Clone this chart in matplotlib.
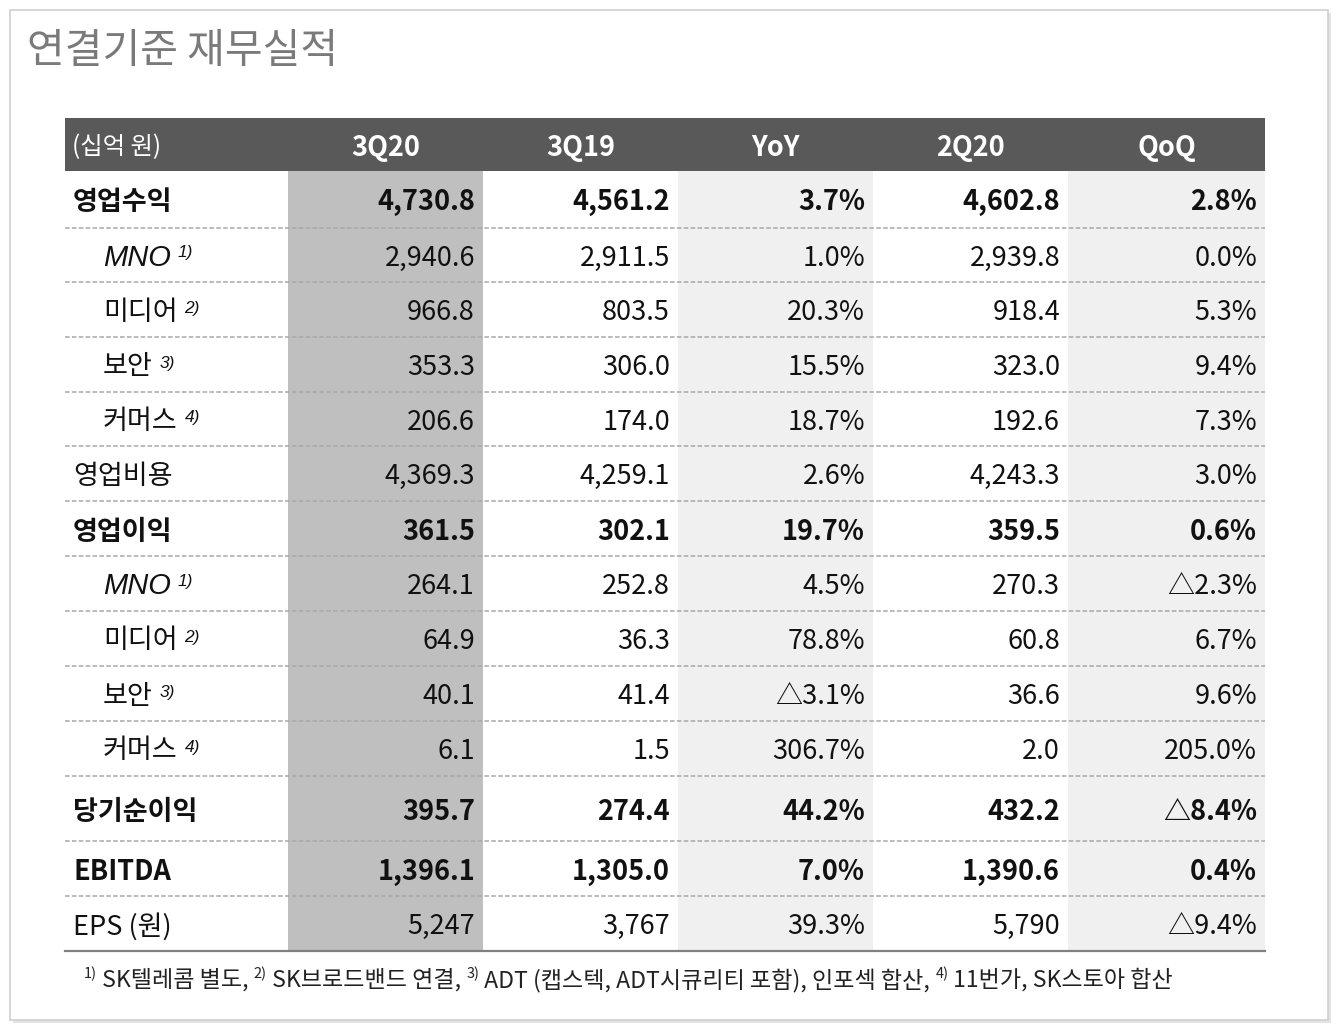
import matplotlib
matplotlib.use("Agg")
import matplotlib.pyplot as plt
from matplotlib.patches import Rectangle

plt.rcParams['font.family'] = ['Noto Sans CJK KR', 'DejaVu Sans']

# ---------------- data ----------------
title = "연결기준 재무실적"
unit_label = "(십억 원)"
columns = ["3Q20", "3Q19", "YoY", "2Q20", "QoQ"]
row_labels = ["영업수익", "MNO", "미디어", "보안", "커머스", "영업비용", "영업이익",
              "MNO", "미디어", "보안", "커머스", "당기순이익", "EBITDA", "EPS (원)"]
row_notes = ["", "1)", "2)", "3)", "4)", "", "", "1)", "2)", "3)", "4)", "", "", ""]
row_kind = ["bold", "sub", "sub", "sub", "sub", "normal", "bold",
            "sub", "sub", "sub", "sub", "bold", "bold", "normal"]
row_decimals = [1] * 13 + [0]

q3_20 = [4730.8, 2940.6, 966.8, 353.3, 206.6, 4369.3, 361.5, 264.1, 64.9, 40.1, 6.1, 395.7, 1396.1, 5247]
q3_19 = [4561.2, 2911.5, 803.5, 306.0, 174.0, 4259.1, 302.1, 252.8, 36.3, 41.4, 1.5, 274.4, 1305.0, 3767]
yoy = [3.7, 1.0, 20.3, 15.5, 18.7, 2.6, 19.7, 4.5, 78.8, -3.1, 306.7, 44.2, 7.0, 39.3]
q2_20 = [4602.8, 2939.8, 918.4, 323.0, 192.6, 4243.3, 359.5, 270.3, 60.8, 36.6, 2.0, 432.2, 1390.6, 5790]
qoq = [2.8, 0.0, 5.3, 9.4, 7.3, 3.0, 0.6, -2.3, 6.7, 9.6, 205.0, -8.4, 0.4, -9.4]

footnote_parts = [("1)", True), (" SK텔레콤 별도, ", False), ("2)", True), (" SK브로드밴드 연결, ", False),
                  ("3)", True), (" ADT (캡스텍, ADT시큐리티 포함), 인포섹 합산, ", False),
                  ("4)", True), (" 11번가, SK스토아 합산", False)]

# ---------------- layout ----------------
W, H = 1338, 1030
col_edges = [65, 288, 483, 678, 873, 1068, 1265]
col_bg = ["#bfbfbf", "#ffffff", "#f0f0f0", "#ffffff", "#f0f0f0"]
header_top, header_bot = 118, 171
row_heights = [57, 54, 55, 55, 54, 55, 55, 55, 55, 55, 55, 65, 55, 55]
FS = 19.5
TXT_DY = 3

fig = plt.figure(figsize=(W / 100, H / 100), dpi=100)
fig.patch.set_facecolor("white")
ax = fig.add_axes([0, 0, 1, 1])
ax.set_xlim(0, W)
ax.set_ylim(H, 0)
ax.axis("off")

# card
ax.add_patch(Rectangle((13, 13), 1318, 1010, facecolor="#e4e4e4", edgecolor="none", zorder=0))
ax.add_patch(Rectangle((10, 10), 1318, 1010, facecolor="white", edgecolor="#cfcfcf", lw=1.2, zorder=0.5))

ax.text(27, 51, title, fontsize=29.5, color="#7a7a7a", ha="left", va="center", zorder=5)

# row boundaries
bounds = [header_bot]
for h in row_heights:
    bounds.append(bounds[-1] + h)
table_bot = bounds[-1]

# column backgrounds
for j in range(5):
    ax.add_patch(Rectangle((col_edges[j + 1], header_bot), col_edges[j + 2] - col_edges[j + 1],
                           table_bot - header_bot, facecolor=col_bg[j], edgecolor="none", zorder=1))

# header
ax.add_patch(Rectangle((col_edges[0], header_top), col_edges[-1] - col_edges[0],
                       header_bot - header_top, facecolor="#595959", edgecolor="none", zorder=1))
hy = (header_top + header_bot) / 2 + 3
ax.text(col_edges[0] + 7, hy, unit_label, color="white", fontsize=17.5, ha="left", va="center", zorder=5)
for j, c in enumerate(columns):
    ax.text((col_edges[j + 1] + col_edges[j + 2]) / 2, hy, c, color="white", fontsize=FS,
            fontweight="bold", ha="center", va="center", zorder=5)


def fmt_val(v, d):
    return f"{v:,.{d}f}"


def fmt_pct(v):
    s = f"{abs(v):.1f}%"
    return ("△" + s) if v < 0 else s


series = [q3_20, q3_19, yoy, q2_20, qoq]
is_pct = [False, False, True, False, True]
ITAL = ["Liberation Sans", "Noto Sans CJK KR"]

for i, lab in enumerate(row_labels):
    yc = (bounds[i] + bounds[i + 1]) / 2 + TXT_DY
    kind = row_kind[i]
    weight = "bold" if kind == "bold" else "normal"
    if kind == "sub":
        fs_lab = 21 if lab.isascii() else FS
        t = ax.text(103, yc, lab, fontsize=fs_lab, style="italic", color="#111111",
                    family=ITAL, ha="left", va="center", zorder=5)
        ax.annotate(row_notes[i], xy=(1, 1), xycoords=t, xytext=(5, -1), textcoords="offset points",
                    fontsize=12.5, style="italic", family=ITAL,
                    color="#111111", ha="left", va="top", zorder=5)
    else:
        ax.text(73, yc, lab, fontsize=FS, fontweight=weight, color="#111111", ha="left",
                va="center", zorder=5)
    for j in range(5):
        v = series[j][i]
        s = fmt_pct(v) if is_pct[j] else fmt_val(v, row_decimals[i])
        ax.text(col_edges[j + 2] - 8, yc, s, fontsize=FS, fontweight=weight, color="#111111",
                ha="right", va="center", zorder=5)

# dashed separators
for b in bounds[1:-1]:
    ax.plot([col_edges[0], col_edges[-1]], [b, b], color="#a8a8a8", lw=1.1,
            linestyle=(0, (3, 1.5)), zorder=3)
ax.plot([col_edges[0], col_edges[-1]], [table_bot, table_bot], color="#808080", lw=1.6, zorder=3)

# footnote
fx = 84
fy = 980
renderer = fig.canvas.get_renderer()
inv = ax.transData.inverted()
for txt, sup in footnote_parts:
    if sup:
        t = ax.text(fx, fy - 6, txt, fontsize=10.5, color="#222222", ha="left", va="center", zorder=5)
    else:
        t = ax.text(fx, fy, txt, fontsize=16.6, color="#222222", ha="left", va="center", zorder=5)
    bb = t.get_window_extent(renderer=renderer)
    fx = inv.transform((bb.x1, bb.y0))[0]

fig.savefig("out.png", dpi=100, facecolor="white")
